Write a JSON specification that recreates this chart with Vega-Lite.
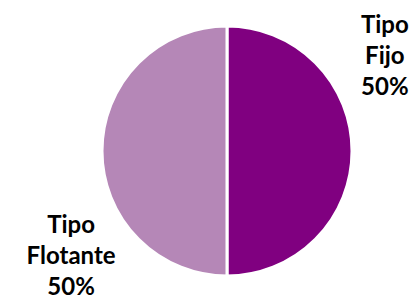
{
  "$schema": "https://vega.github.io/schema/vega-lite/v6.json",
  "width": 378,
  "height": 298,
  "autosize": "none",
  "padding": {"left": 38, "top": 2, "right": 0, "bottom": 0},
  "background": "white",
  "view": {"stroke": null},
  "data": {"values": [
    {"tipo": "Tipo Fijo", "valor": 50},
    {"tipo": "Tipo Flotante", "valor": 50}
  ]},
  "transform": [
    {"calculate": "datum.tipo + ' ' + datum.valor + '%'", "as": "etiqueta"}
  ],
  "encoding": {
    "order": {"field": "tipo", "sort": "ascending"}
  },
  "layer": [
    {
      "mark": {"type": "arc", "outerRadius": 125, "stroke": "white", "strokeWidth": 3},
      "encoding": {
        "theta": {"field": "valor", "type": "quantitative", "stack": true},
        "color": {
          "field": "tipo", "type": "nominal",
          "scale": {"domain": ["Tipo Fijo", "Tipo Flotante"], "range": ["#800080", "#B587B7"]},
          "legend": null
        }
      }
    },
    {
      "mark": {"type": "text", "radius": 186, "dx": 1, "dy": -25, "font": "Lato", "fontWeight": "bold", "fontSize": 24, "lineBreak": " ", "lineHeight": 31, "align": "center", "baseline": "middle", "color": "black"},
      "encoding": {
        "theta": {"field": "valor", "type": "quantitative", "stack": true, "scale": {"range": [-0.5672, 5.7160]}},
        "text": {"field": "etiqueta"}
      }
    }
  ],
  "resolve": {"scale": {"theta": "independent"}}
}
